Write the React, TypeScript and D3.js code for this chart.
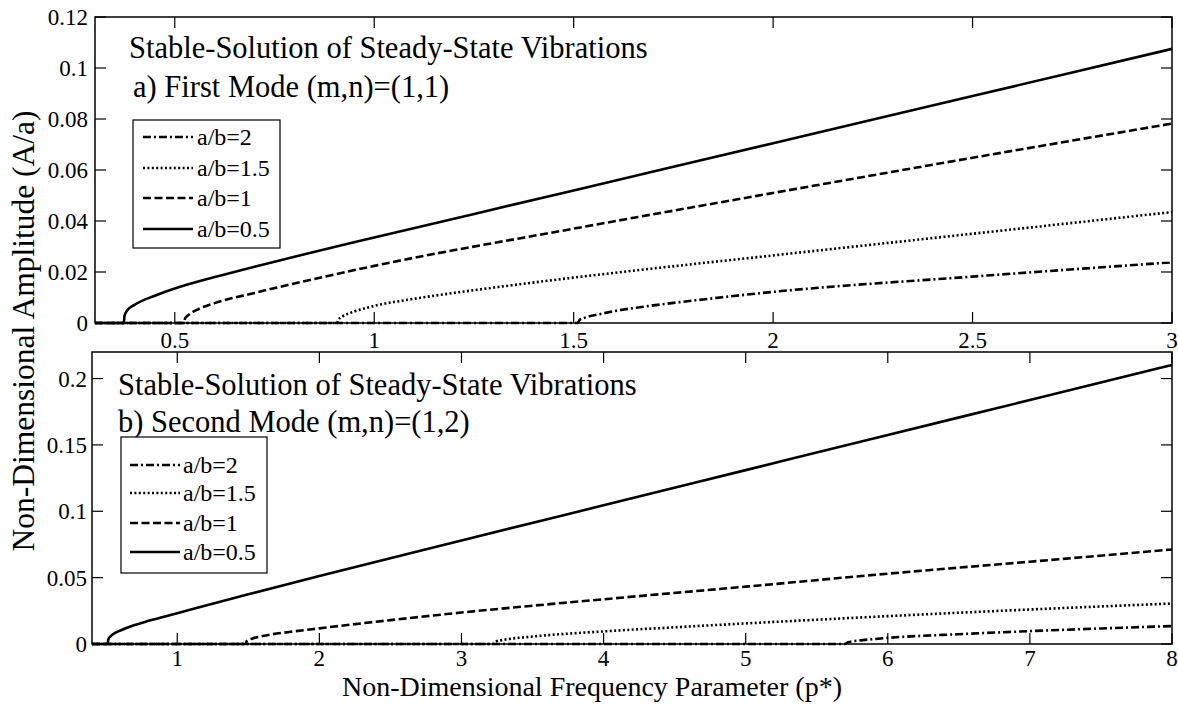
import React from "react";
import * as d3 from "d3";

// ---------- Data ----------
const seriesLabels = ["a/b=2", "a/b=1.5", "a/b=1", "a/b=0.5"];

// First mode (m,n)=(1,1)
const m1_p_ab2 = [0.3, 1.51, 1.515, 1.53, 1.56, 1.6, 1.7, 1.8, 2.0, 2.5, 3.0];
const m1_A_ab2 = [0, 0, 0.0012, 0.0022, 0.0033, 0.0046, 0.0069, 0.0088, 0.0122, 0.0182, 0.0238];
const m1_p_ab15 = [0.3, 0.907, 0.91, 0.92, 0.95, 1.0, 1.1, 1.2, 1.3, 1.5, 2.0, 2.5, 3.0];
const m1_A_ab15 = [0, 0, 0.0013, 0.0025, 0.0045, 0.0067, 0.0095, 0.0118, 0.0139, 0.0178, 0.0265, 0.035, 0.0435];
const m1_p_ab1 = [0.3, 0.523, 0.526, 0.535, 0.56, 0.6, 0.7, 0.8, 0.9, 1.0, 1.5, 2.0, 2.5, 3.0];
const m1_A_ab1 = [0, 0, 0.0018, 0.0032, 0.0055, 0.0078, 0.0118, 0.0155, 0.019, 0.0224, 0.037, 0.051, 0.0648, 0.0782];
const m1_p_ab05 = [0.3, 0.372, 0.374, 0.38, 0.4, 0.45, 0.5, 0.6, 0.7, 0.8, 0.9, 1.0, 1.5, 2.0, 2.5, 3.0];
const m1_A_ab05 = [0, 0, 0.0028, 0.0048, 0.0072, 0.0107, 0.0135, 0.018, 0.0221, 0.026, 0.0298, 0.0335, 0.052, 0.0705, 0.089, 0.1075];

// Second mode (m,n)=(1,2)
const m2_p_ab2 = [0.4, 5.7, 5.72, 5.78, 5.9, 6.0, 6.5, 7.0, 7.5, 8.0];
const m2_A_ab2 = [0, 0, 0.0013, 0.0024, 0.0037, 0.0046, 0.0074, 0.0097, 0.0117, 0.0135];
const m2_p_ab15 = [0.4, 3.22, 3.24, 3.3, 3.5, 4.0, 4.5, 5.0, 6.0, 7.0, 8.0];
const m2_A_ab15 = [0, 0, 0.0018, 0.0032, 0.0056, 0.0095, 0.0126, 0.0155, 0.021, 0.026, 0.0305];
const m2_p_ab1 = [0.4, 1.48, 1.49, 1.53, 1.6, 1.8, 2.0, 2.5, 3.0, 4.0, 5.0, 6.0, 7.0, 8.0];
const m2_A_ab1 = [0, 0, 0.0024, 0.0042, 0.006, 0.0092, 0.0118, 0.018, 0.0237, 0.0337, 0.0432, 0.053, 0.062, 0.0712];
const m2_p_ab05 = [0.4, 0.51, 0.515, 0.53, 0.56, 0.6, 0.7, 0.8, 1.0, 1.5, 2.0, 3.0, 4.0, 5.0, 6.0, 7.0, 8.0];
const m2_A_ab05 = [0, 0, 0.0035, 0.0058, 0.0082, 0.0102, 0.0143, 0.0175, 0.0232, 0.0374, 0.0512, 0.078, 0.1045, 0.131, 0.1575, 0.1838, 0.2102];

// Ticks
const m1_xTicks = [0.5, 1, 1.5, 2, 2.5, 3];
const m1_xTickLabels = ["0.5", "1", "1.5", "2", "2.5", "3"];
const m1_yTicks = [0, 0.02, 0.04, 0.06, 0.08, 0.1, 0.12];
const m1_yTickLabels = ["0", "0.02", "0.04", "0.06", "0.08", "0.1", "0.12"];
const m2_xTicks = [1, 2, 3, 4, 5, 6, 7, 8];
const m2_xTickLabels = ["1", "2", "3", "4", "5", "6", "7", "8"];
const m2_yTicks = [0, 0.05, 0.1, 0.15, 0.2];
const m2_yTickLabels = ["0", "0.05", "0.1", "0.15", "0.2"];

const titleMain = "Stable-Solution of Steady-State Vibrations";
const titleA = "a) First Mode (m,n)=(1,1)";
const titleB = "b) Second Mode (m,n)=(1,2)";
const xAxisLabel = "Non-Dimensional Frequency Parameter (p*)";
const yAxisLabel = "Non-Dimensional Amplitude (A/a)";

// ---------- Styles ----------
const FONT = "Liberation Serif, Times New Roman, serif";
const dashStyles = ["8,3,2,3", "2,2.4", "8,3.5", ""];
const W = 1178;
const H = 704;

type PanelProps = {
  left: number; right: number; top: number; bottom: number;
  xDomain: [number, number]; yDomain: [number, number];
  xTicks: number[]; xTickLabels: string[];
  yTicks: number[]; yTickLabels: string[];
  series: { p: number[]; A: number[] }[];
  title1: { x: number; y: number; text: string };
  title2: { x: number; y: number; text: string };
  legend: { x: number; y: number; w: number; h: number; lineX0: number; lineX1: number; textX: number; rows: number[] };
  xLabelY: number;
  yLabelX: number;
};

function Panel(props: PanelProps) {
  const { left, right, top, bottom } = props;
  const x = d3.scaleLinear().domain(props.xDomain).range([left, right]);
  const y = d3.scaleLinear().domain(props.yDomain).range([bottom, top]);
  const line = d3
    .line<[number, number]>()
    .x((d) => x(d[0]))
    .y((d) => y(d[1]))
    .curve(d3.curveMonotoneX);
  const tickLen = 11;
  return (
    <g>
      {props.series.map((s, i) => (
        <path
          key={i}
          d={line(s.p.map((p, j) => [p, s.A[j]] as [number, number])) || ""}
          fill="none"
          stroke="#000"
          strokeWidth={2.6}
          strokeDasharray={dashStyles[i] || undefined}
        />
      ))}
      <rect x={left} y={top} width={right - left} height={bottom - top} fill="none" stroke="#000" strokeWidth={1.5} />
      {props.xTicks.map((t, i) => (
        <g key={"xt" + i}>
          <line x1={x(t)} x2={x(t)} y1={bottom} y2={bottom - tickLen} stroke="#000" strokeWidth={1.2} />
          <line x1={x(t)} x2={x(t)} y1={top} y2={top + tickLen} stroke="#000" strokeWidth={1.2} />
          <text x={x(t)} y={props.xLabelY} textAnchor="middle" fontSize={23} fontFamily={FONT}>
            {props.xTickLabels[i]}
          </text>
        </g>
      ))}
      {props.yTicks.map((t, i) => (
        <g key={"yt" + i}>
          <line x1={left} x2={left + tickLen} y1={y(t)} y2={y(t)} stroke="#000" strokeWidth={1.2} />
          <line x1={right} x2={right - tickLen} y1={y(t)} y2={y(t)} stroke="#000" strokeWidth={1.2} />
          <text x={props.yLabelX} y={y(t)} dy="0.35em" textAnchor="end" fontSize={23} fontFamily={FONT}>
            {props.yTickLabels[i]}
          </text>
        </g>
      ))}
      <text x={props.title1.x} y={props.title1.y} fontSize={30.5} fontFamily={FONT}>{props.title1.text}</text>
      <text x={props.title2.x} y={props.title2.y} fontSize={30.5} fontFamily={FONT}>{props.title2.text}</text>
      <rect x={props.legend.x} y={props.legend.y} width={props.legend.w} height={props.legend.h} fill="#fff" stroke="#000" strokeWidth={1.2} />
      {seriesLabels.map((lab, i) => (
        <g key={"lg" + i}>
          <line
            x1={props.legend.lineX0}
            x2={props.legend.lineX1}
            y1={props.legend.rows[i]}
            y2={props.legend.rows[i]}
            stroke="#000"
            strokeWidth={2.4}
            strokeDasharray={dashStyles[i] || undefined}
          />
          <text x={props.legend.textX} y={props.legend.rows[i]} dy="0.35em" fontSize={24} fontFamily={FONT}>
            {lab}
          </text>
        </g>
      ))}
    </g>
  );
}

export default function App() {
  const panel1Series = [
    { p: m1_p_ab2, A: m1_A_ab2 },
    { p: m1_p_ab15, A: m1_A_ab15 },
    { p: m1_p_ab1, A: m1_A_ab1 },
    { p: m1_p_ab05, A: m1_A_ab05 },
  ];
  const panel2Series = [
    { p: m2_p_ab2, A: m2_A_ab2 },
    { p: m2_p_ab15, A: m2_A_ab15 },
    { p: m2_p_ab1, A: m2_A_ab1 },
    { p: m2_p_ab05, A: m2_A_ab05 },
  ];
  return (
    <svg width={W} height={H} style={{ position: "absolute", left: 0, top: 0, background: "#fff" }}>
      <rect x={0} y={0} width={W} height={H} fill="#fff" />
      <Panel
        left={95} right={1172} top={17} bottom={323}
        xDomain={[0.3, 3]} yDomain={[0, 0.12]}
        xTicks={m1_xTicks} xTickLabels={m1_xTickLabels}
        yTicks={m1_yTicks} yTickLabels={m1_yTickLabels}
        series={panel1Series}
        title1={{ x: 129, y: 58, text: titleMain }}
        title2={{ x: 133, y: 97, text: titleA }}
        legend={{ x: 133, y: 120, w: 147, h: 128, lineX0: 143, lineX1: 193, textX: 197, rows: [137, 168, 198, 229] }}
        xLabelY={348}
        yLabelX={88}
      />
      <Panel
        left={92} right={1172} top={352} bottom={644}
        xDomain={[0.4, 8]} yDomain={[0, 0.22]}
        xTicks={m2_xTicks} xTickLabels={m2_xTickLabels}
        yTicks={m2_yTicks} yTickLabels={m2_yTickLabels}
        series={panel2Series}
        title1={{ x: 118, y: 395, text: titleMain }}
        title2={{ x: 118, y: 432, text: titleB }}
        legend={{ x: 121, y: 437, w: 146, h: 136, lineX0: 130, lineX1: 180, textX: 183, rows: [465, 493, 523, 552] }}
        xLabelY={665.5}
        yLabelX={87}
      />
      <text x={592} y={695.5} textAnchor="middle" fontSize={28} fontFamily={FONT}>{xAxisLabel}</text>
      <text
        transform={`translate(34, 331) rotate(-90)`}
        textAnchor="middle"
        fontSize={31.5}
        fontFamily={FONT}
      >
        {yAxisLabel}
      </text>
    </svg>
  );
}
